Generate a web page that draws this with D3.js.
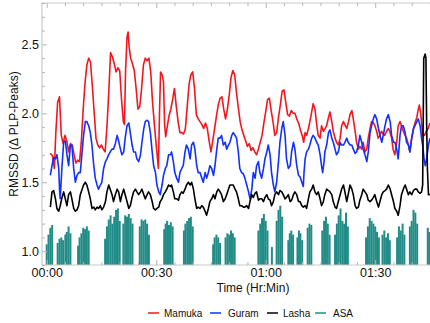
<!DOCTYPE html>
<html><head><meta charset="utf-8">
<script src="https://cdn.jsdelivr.net/npm/d3@7"></script>
<style>
body{margin:0;background:#fff}
svg{display:block}
text{font-family:"Liberation Sans",Arial,Helvetica,sans-serif;fill:#111}
</style>
</head><body>
<svg id="chart" width="430" height="323"></svg>
<script>
// ---------- data (time in minutes, RMSSD values) ----------
const mamuka = [[1,1.71],[1.6,1.69],[2.1,1.60],[2.5,1.86],[3,2.08],[3.5,2.12],[4,1.84],[4.5,1.78],[5,1.84],[5.5,1.80],[6,1.72],[6.5,1.78],[7,1.77],[7.5,1.70],[8,1.64],[8.5,1.66],[9,1.65],[9.5,1.80],[10,2.03],[10.5,2.22],[11,2.35],[11.5,2.40],[12,2.37],[12.5,2.20],[13,2.01],[13.5,1.82],[14,1.77],[14.5,1.75],[15,1.77],[15.5,1.74],[16,1.72],[16.5,1.90],[17,2.15],[17.5,2.44],[18,2.41],[18.5,2.36],[19,2.30],[19.5,2.33],[20,2.31],[20.5,2.10],[21,1.94],[21.3,1.92],[21.6,2.30],[22,2.55],[22.3,2.59],[22.6,2.48],[23,2.40],[23.5,2.36],[24,2.31],[24.5,2.18],[25,2.03],[25.5,2.05],[26,2.18],[26.5,2.35],[27,2.40],[27.5,2.38],[28,2.40],[28.5,2.30],[29,2.08],[29.5,1.92],[30,1.77],[30.6,1.60],[30.9,2.00],[31.2,2.30],[31.6,2.28],[32,2.23],[32.3,1.92],[32.6,1.83],[33,1.90],[33.5,1.98],[34,2.03],[34.5,2.10],[35,2.18],[35.5,2.05],[36,1.94],[36.5,1.86],[37,1.86],[37.5,1.85],[38,1.89],[38.5,2.05],[39,2.21],[39.5,2.28],[40,2.30],[40.5,2.18],[41,1.99],[41.5,1.96],[42,1.94],[42.5,1.92],[43,1.89],[43.5,1.93],[44,1.89],[44.5,1.80],[45,1.72],[45.5,1.80],[46,1.89],[46.5,1.98],[47,2.06],[47.5,2.11],[48,2.12],[48.5,2.03],[49,1.96],[49.5,2.03],[50,2.13],[50.5,2.26],[51,2.31],[51.5,2.28],[52,2.15],[52.5,2.04],[53,1.94],[53.5,1.88],[54,1.84],[54.5,1.80],[55,1.76],[55.5,1.78],[56,1.73],[56.5,1.75],[57,1.72],[57.5,1.70],[58,1.74],[58.5,1.79],[59,1.84],[59.5,1.93],[60,2.01],[60.5,2.10],[61,2.11],[61.5,2.02],[62,1.94],[62.5,1.84],[63,1.86],[63.5,1.97],[64,2.06],[64.5,2.16],[65,2.17],[65.5,2.08],[66,1.99],[66.5,1.98],[67,2.02],[67.5,2.00],[68,2.00],[68.5,1.96],[69,1.93],[69.5,1.88],[70,1.84],[70.4,1.79],[70.8,1.86],[71.2,1.84],[71.7,1.89],[72.1,1.94],[72.6,2.01],[73,2.07],[73.5,2.03],[74,1.91],[74.4,1.84],[74.9,1.82],[75.3,1.91],[75.8,1.87],[76.3,1.89],[76.7,1.91],[77.2,1.97],[77.6,2.01],[78.1,1.94],[78.5,1.87],[79,1.82],[79.4,1.79],[79.9,1.77],[80.4,1.82],[80.8,1.91],[81.3,1.94],[81.8,1.91],[82.2,1.89],[82.7,1.94],[83.1,1.99],[83.6,2.02],[84,1.96],[84.5,1.87],[84.9,1.79],[85.4,1.74],[85.8,1.76],[86.3,1.74],[86.7,1.79],[87.2,1.72],[87.7,1.74],[88.1,1.82],[88.6,1.89],[89,1.94],[89.5,1.93],[89.9,1.91],[90.4,1.87],[90.8,1.82],[91.3,1.84],[91.7,1.87],[92.2,1.85],[92.6,1.84],[93.1,1.87],[93.6,1.89],[94,1.87],[94.5,1.82],[94.9,1.74],[95.4,1.70],[95.9,1.79],[96.3,1.91],[96.8,1.94],[97.2,1.91],[97.7,1.87],[98.2,1.84],[98.6,1.82],[99.1,1.77],[99.5,1.72],[100,1.82],[100.5,1.89],[100.9,1.93],[101.4,1.97],[101.8,2.03],[102.1,2.06],[102.5,1.99],[103,1.84],[103.5,1.84],[104,1.87],[104.5,1.89],[105,1.93]];

const guram = [[1,1.55],[1.45,1.62],[1.9,1.68],[2.4,1.67],[2.8,1.70],[3.3,1.60],[3.55,1.43],[3.7,1.38],[4.2,1.62],[4.65,1.79],[5.1,1.80],[5.55,1.70],[6,1.62],[6.5,1.77],[6.9,1.77],[7.4,1.60],[7.85,1.50],[8.3,1.55],[8.75,1.57],[9.2,1.57],[9.7,1.72],[10.1,1.84],[10.6,1.94],[11,1.94],[11.5,1.91],[11.95,1.86],[12.4,1.77],[12.9,1.62],[13.3,1.53],[13.8,1.48],[14.2,1.45],[14.7,1.48],[15.1,1.50],[15.6,1.60],[16.1,1.65],[16.5,1.67],[17,1.70],[17.4,1.72],[17.9,1.74],[18.3,1.74],[18.8,1.78],[19.3,1.84],[19.7,1.80],[20.2,1.74],[20.6,1.70],[21.1,1.72],[21.5,1.82],[22,1.91],[22.5,1.93],[22.9,1.86],[23.4,1.77],[23.8,1.72],[24.3,1.72],[24.7,1.67],[25.2,1.65],[25.7,1.70],[26.1,1.79],[26.6,1.89],[27,1.94],[27.5,1.95],[27.9,1.94],[28.4,1.86],[28.9,1.72],[29.3,1.62],[29.8,1.57],[30.2,1.48],[30.7,1.43],[31.1,1.41],[31.6,1.48],[32,1.55],[32.5,1.60],[32.9,1.62],[33.4,1.70],[33.9,1.70],[34.2,1.72],[34.7,1.65],[35.1,1.57],[35.6,1.53],[36.1,1.50],[36.5,1.57],[37,1.60],[37.4,1.62],[37.9,1.72],[38.3,1.77],[38.8,1.74],[39.3,1.67],[39.7,1.77],[40.2,1.79],[40.6,1.74],[41.1,1.62],[41.5,1.57],[42,1.57],[42.5,1.53],[42.9,1.50],[43.4,1.57],[43.8,1.53],[44.3,1.57],[44.7,1.62],[45.2,1.60],[45.7,1.55],[46.1,1.62],[46.6,1.74],[47,1.82],[47.5,1.82],[47.9,1.84],[48.4,1.77],[48.9,1.79],[49.3,1.74],[49.8,1.77],[50.2,1.79],[50.7,1.84],[51.1,1.86],[51.6,1.84],[52,1.82],[52.5,1.72],[52.9,1.60],[53.4,1.57],[53.9,1.56],[54.3,1.53],[54.8,1.48],[55.3,1.43],[55.7,1.38],[56.2,1.45],[56.6,1.57],[57.1,1.53],[57.5,1.62],[58,1.65],[58.4,1.57],[58.9,1.53],[59.4,1.60],[59.8,1.67],[60.3,1.72],[60.7,1.77],[61.2,1.70],[61.6,1.57],[62.1,1.48],[62.5,1.43],[63,1.50],[63.5,1.65],[63.9,1.79],[64.4,1.89],[64.8,1.94],[65.3,1.84],[65.7,1.67],[66.2,1.60],[66.7,1.62],[67.1,1.72],[67.6,1.79],[68,1.74],[68.5,1.62],[69,1.55],[69.4,1.54],[69.9,1.50],[70.3,1.47],[70.5,1.57],[70.8,1.67],[71.2,1.72],[71.7,1.74],[72.1,1.77],[72.6,1.82],[73,1.84],[73.5,1.82],[73.96,1.79],[74.4,1.77],[74.9,1.70],[75.3,1.62],[75.6,1.57],[76,1.65],[76.2,1.72],[76.7,1.77],[77.2,1.86],[77.6,1.88],[78.1,1.82],[78.5,1.79],[79,1.74],[79.4,1.70],[79.9,1.72],[80.4,1.79],[80.8,1.77],[81.3,1.77],[81.7,1.79],[82.2,1.82],[82.6,1.79],[83.1,1.77],[83.6,1.77],[84,1.74],[84.5,1.71],[84.9,1.72],[85.4,1.77],[85.8,1.84],[86.3,1.79],[86.7,1.74],[87.2,1.70],[87.7,1.65],[88.1,1.72],[88.6,1.86],[89,1.91],[89.5,1.96],[89.9,1.99],[90.4,1.96],[90.9,1.89],[91.3,1.84],[91.8,1.79],[92.2,1.84],[92.7,1.91],[93.1,1.96],[93.6,1.99],[94.1,1.94],[94.5,1.84],[95,1.79],[95.4,1.79],[95.9,1.74],[96.3,1.67],[96.8,1.84],[97.2,1.91],[97.7,1.91],[98.2,1.86],[98.6,1.79],[99.1,1.77],[99.5,1.72],[100,1.82],[100.5,1.89],[100.9,1.91],[101.4,1.94],[101.8,1.96],[102.3,1.91],[102.7,1.82],[103,1.77],[103.4,1.67],[103.7,1.62],[104.1,1.67],[104.6,1.77],[105,1.82]];

const lasha = [[1,1.32],[1.45,1.43],[1.9,1.44],[2.4,1.38],[2.8,1.31],[3.3,1.29],[3.7,1.33],[4.2,1.39],[4.65,1.43],[5.1,1.38],[5.55,1.33],[6,1.41],[6.5,1.43],[6.9,1.38],[7.4,1.31],[7.85,1.29],[8.3,1.30],[8.75,1.33],[9.2,1.41],[9.7,1.45],[10.1,1.48],[10.6,1.50],[11,1.48],[11.5,1.43],[11.95,1.38],[12.4,1.31],[12.9,1.32],[13.3,1.30],[13.8,1.32],[14.2,1.31],[14.7,1.33],[15.1,1.30],[15.6,1.32],[16.1,1.36],[16.5,1.43],[17,1.48],[17.4,1.45],[17.9,1.41],[18.3,1.36],[18.8,1.41],[19.3,1.45],[19.7,1.43],[20.2,1.36],[20.6,1.41],[21.1,1.45],[21.5,1.41],[22,1.36],[22.5,1.31],[22.9,1.33],[23.4,1.39],[23.8,1.43],[24.3,1.45],[24.7,1.43],[25.2,1.41],[25.7,1.43],[26.1,1.45],[26.6,1.41],[27,1.38],[27.5,1.41],[27.9,1.43],[28.4,1.41],[28.9,1.36],[29.3,1.31],[29.8,1.30],[30.2,1.31],[30.7,1.32],[31.1,1.36],[31.6,1.38],[32,1.41],[32.5,1.43],[32.9,1.45],[33.4,1.48],[33.9,1.47],[34.2,1.48],[34.7,1.43],[35.1,1.38],[35.6,1.38],[36.1,1.37],[36.5,1.41],[37,1.43],[37.4,1.42],[37.9,1.45],[38.3,1.48],[38.8,1.50],[39.3,1.48],[39.7,1.50],[40.2,1.45],[40.6,1.38],[41.1,1.31],[41.5,1.32],[42,1.31],[42.5,1.33],[42.9,1.32],[43.4,1.29],[43.8,1.26],[44.3,1.31],[44.7,1.36],[45.2,1.38],[45.7,1.41],[46.1,1.38],[46.6,1.43],[47,1.45],[47.5,1.43],[47.9,1.41],[48.4,1.36],[48.9,1.38],[49.3,1.41],[49.8,1.45],[50.2,1.48],[50.7,1.48],[51.1,1.48],[51.6,1.45],[52,1.43],[52.5,1.38],[52.9,1.33],[53.4,1.33],[53.9,1.32],[54.3,1.32],[54.8,1.33],[55.3,1.31],[55.7,1.36],[56.2,1.41],[56.6,1.39],[57.1,1.42],[57.5,1.43],[58,1.37],[58.4,1.38],[58.9,1.38],[59.4,1.36],[59.8,1.39],[60.3,1.41],[60.7,1.38],[61.2,1.37],[61.6,1.33],[62.1,1.36],[62.5,1.41],[63,1.43],[63.5,1.41],[63.9,1.44],[64.4,1.43],[64.8,1.41],[65.3,1.38],[65.7,1.39],[66.2,1.41],[66.7,1.36],[67.1,1.37],[67.6,1.41],[68,1.43],[68.5,1.41],[69,1.36],[69.4,1.36],[69.9,1.33],[70.3,1.32],[70.8,1.33],[71.2,1.31],[71.7,1.38],[72.1,1.43],[72.6,1.45],[73,1.48],[73.5,1.43],[73.96,1.41],[74.4,1.43],[74.9,1.38],[75.3,1.33],[75.8,1.36],[76.2,1.41],[76.7,1.45],[77.2,1.44],[77.6,1.43],[78.1,1.41],[78.5,1.36],[79,1.32],[79.4,1.31],[79.9,1.36],[80.4,1.41],[80.8,1.45],[81.3,1.48],[81.7,1.43],[82.2,1.36],[82.6,1.41],[83.1,1.48],[83.6,1.45],[84,1.41],[84.5,1.33],[84.9,1.31],[85.4,1.32],[85.8,1.37],[86.3,1.41],[86.7,1.45],[87.2,1.43],[87.7,1.41],[88.1,1.37],[88.6,1.36],[89,1.37],[89.5,1.39],[89.9,1.41],[90.4,1.36],[90.9,1.32],[91.3,1.36],[91.8,1.41],[92.2,1.43],[92.7,1.44],[93.1,1.45],[93.6,1.48],[94.1,1.45],[94.5,1.41],[95,1.36],[95.4,1.31],[95.9,1.29],[96.3,1.26],[96.8,1.33],[97.2,1.41],[97.7,1.45],[98.2,1.48],[98.6,1.45],[99.1,1.41],[99.5,1.43],[100,1.41],[100.5,1.44],[100.9,1.45],[101.4,1.45],[101.8,1.43],[102.3,1.42],[102.7,1.43],[103,1.48],[103.3,2.40],[103.7,2.43],[103.9,2.40],[104.1,1.91],[104.3,1.60],[104.6,1.41],[105,1.41]];

const asa = [[0,1.05],[0.5,1.12],[1,1.17],[1.5,1.19],[3,1.06],[3.5,1.09],[4,1.10],[4.5,1.08],[5.1,1.12],[5.5,1.14],[6,1.18],[6.5,1.13],[8.6,1.04],[9,1.10],[9.5,1.13],[10,1.17],[10.5,1.16],[11,1.18],[11.5,1.15],[16,1.09],[16.5,1.18],[17,1.23],[17.5,1.26],[18,1.20],[18.5,1.25],[19,1.30],[19.5,1.31],[20,1.22],[21,1.20],[21.5,1.26],[22,1.25],[22.5,1.27],[23,1.24],[23.5,1.20],[25.5,1.18],[26,1.23],[26.5,1.22],[27,1.23],[27.5,1.20],[28,1.12],[32.2,1.16],[32.6,1.20],[33,1.22],[33.5,1.19],[34,1.21],[34.5,1.18],[37.6,1.15],[38,1.20],[38.5,1.22],[39,1.24],[39.5,1.25],[40,1.18],[45.6,1.05],[46,1.10],[46.5,1.12],[47,1.10],[47.5,1.06],[49,1.10],[49.5,1.13],[50,1.12],[50.5,1.15],[51,1.13],[51.5,1.10],[58,1.15],[58.5,1.20],[59,1.24],[59.5,1.27],[60,1.22],[60.5,1.15],[61.7,1.03],[63,1.22],[63.5,1.30],[64,1.33],[64.5,1.25],[66.2,1.08],[66.6,1.13],[67,1.15],[67.5,1.12],[68.7,1.10],[69.1,1.15],[69.5,1.13],[70,1.08],[71.5,1.17],[72,1.20],[72.5,1.19],[75.5,1.15],[76,1.22],[76.5,1.25],[77,1.20],[77.5,1.12],[79,1.12],[79.5,1.20],[80,1.26],[80.5,1.31],[81,1.22],[81.5,1.20],[82,1.28],[82.5,1.18],[87.5,1.10],[88,1.18],[88.5,1.24],[89,1.22],[89.5,1.20],[90,1.18],[90.5,1.14],[91,1.10],[92,1.12],[92.5,1.15],[93,1.10],[93.5,1.13],[94,1.08],[96,1.10],[96.5,1.18],[97,1.15],[97.5,1.20],[98,1.12],[99.5,1.18],[100,1.22],[100.5,1.30],[101,1.28],[101.5,1.20],[104.4,1.17],[104.8,1.14]];

const xTickValues = [0, 30, 60, 90];
const xTickLabels = ["00:00", "00:30", "01:00", "01:30"];
const yTickValues = [1.0, 1.5, 2.0, 2.5];
const seriesNames = ["Mamuka", "Guram", "Lasha", "ASA"];
const seriesColors = ["#f2161e", "#1230ff", "#000000", "#238c87"];
const yTitle = "RMSSD (\u0394 PLP-Peaks)";
const xTitle = "Time (Hr:Min)";

// ---------- layout ----------
const frame = {left: 42, top: 3, bottom: 265, right: 430};
const svg = d3.select("#chart");
const x = d3.scaleLinear().domain([0, 105]).range([46.7, 429.95]);
const y = d3.scaleLinear().domain([0.9, 2.8]).range([frame.bottom, frame.top]);

svg.append("defs").append("clipPath").attr("id", "clip")
  .append("rect").attr("x", frame.left).attr("y", frame.top)
  .attr("width", frame.right - frame.left).attr("height", frame.bottom - frame.top);

const plot = svg.append("g").attr("clip-path", "url(#clip)");

// ASA bars
plot.append("g").selectAll("rect").data(asa).join("rect")
  .attr("x", d => x(d[0]) - 1.0)
  .attr("width", 2.0)
  .attr("y", d => y(d[1]))
  .attr("height", d => y(0.9) - y(d[1]))
  .attr("fill", seriesColors[3]);

const line = d3.line().x(d => x(d[0])).y(d => y(d[1]));
[[mamuka, 0], [guram, 1], [lasha, 2]].forEach(([data, i]) => {
  plot.append("path").datum(data).attr("d", line)
    .attr("fill", "none").attr("stroke", seriesColors[i])
    .attr("stroke-width", 1.6).attr("stroke-linejoin", "round");
});

// frame
const frameColor = "#c9c9c9";
svg.append("line").attr("x1", frame.left).attr("x2", frame.right).attr("y1", frame.top).attr("y2", frame.top).attr("stroke", frameColor).attr("stroke-width", 1.2);
svg.append("line").attr("x1", frame.left).attr("x2", frame.right).attr("y1", frame.bottom).attr("y2", frame.bottom).attr("stroke", frameColor).attr("stroke-width", 1.2);
svg.append("line").attr("x1", frame.left).attr("x2", frame.left).attr("y1", frame.top).attr("y2", frame.bottom).attr("stroke", frameColor).attr("stroke-width", 1.2);

const minorX = d3.range(0, 106, 5).filter(v => xTickValues.indexOf(v) < 0);
const minorY = d3.range(9, 29).map(v => v / 10).filter(v => yTickValues.indexOf(v) < 0);

function styleAxis(g) {
  g.select(".domain").remove();
  g.selectAll(".tick line").attr("stroke", "#b5b5b5");
  g.selectAll(".tick text").attr("font-size", 12.5).attr("fill", "#111")
    .attr("font-family", '"Liberation Sans",Arial,sans-serif');
}

// bottom axis (labels + major ticks)
svg.append("g").attr("transform", `translate(0,${frame.bottom})`)
  .call(d3.axisBottom(x).tickValues(xTickValues).tickSize(-5).tickPadding(3)
    .tickFormat((d, i) => xTickLabels[i])).call(styleAxis);
svg.append("g").attr("transform", `translate(0,${frame.bottom})`)
  .call(d3.axisBottom(x).tickValues(minorX).tickSize(-3).tickFormat("")).call(styleAxis);
// top axis
svg.append("g").attr("transform", `translate(0,${frame.top})`)
  .call(d3.axisTop(x).tickValues(xTickValues).tickSize(-5).tickFormat("")).call(styleAxis);
svg.append("g").attr("transform", `translate(0,${frame.top})`)
  .call(d3.axisTop(x).tickValues(minorX).tickSize(-3).tickFormat("")).call(styleAxis);
// left axis
svg.append("g").attr("transform", `translate(${frame.left},0)`)
  .call(d3.axisLeft(y).tickValues(yTickValues).tickSize(-5).tickPadding(3)
    .tickFormat(d3.format(".1f"))).call(styleAxis);
svg.append("g").attr("transform", `translate(${frame.left},0)`)
  .call(d3.axisLeft(y).tickValues(minorY).tickSize(-3).tickFormat("")).call(styleAxis);

// titles
svg.append("text").attr("transform", "translate(18,134) rotate(-90)")
  .attr("text-anchor", "middle").attr("font-size", 12).text(yTitle);
svg.append("text").attr("x", 253).attr("y", 292)
  .attr("text-anchor", "middle").attr("font-size", 12).text(xTitle);

// legend
const legendLineX = [148, 210, 267, 315];
const legendTextX = [164, 228, 283, 333];
const legendY = 313;
const lg = svg.append("g");
seriesNames.forEach((name, i) => {
  lg.append("line").attr("x1", legendLineX[i]).attr("x2", legendLineX[i] + 11)
    .attr("y1", legendY).attr("y2", legendY)
    .attr("stroke", seriesColors[i]).attr("stroke-width", 1.5);
  lg.append("text").attr("x", legendTextX[i]).attr("y", legendY + 3.6)
    .attr("font-size", 10).text(name);
});
</script>
</body></html>
